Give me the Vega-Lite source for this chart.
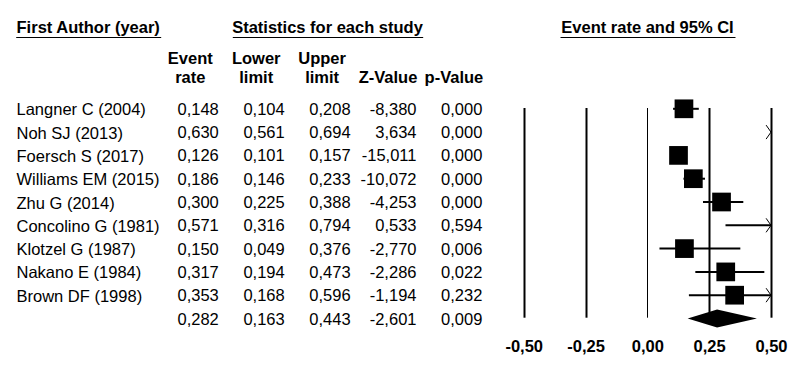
{
  "$schema": "https://vega.github.io/schema/vega-lite/v6.json",
  "width": 798,
  "height": 232,
  "autosize": {"type": "none"},
  "padding": {"top": 97, "bottom": 37, "left": 0, "right": 0},
  "background": "white",
  "config": {
    "view": {"stroke": null},
    "font": "Liberation Sans",
    "text": {"font": "Liberation Sans", "fontSize": 16.5, "color": "black"},
    "axis": {"labelFont": "Liberation Sans", "titleFont": "Liberation Sans", "labelColor": "black", "labelFontSize": 16.5},
    "locale": {"number": {"decimal": ",", "thousands": ".", "grouping": [3], "currency": ["", ""], "minus": "-"}}
  },
  "datasets": {
    "studies": [
      {"name": "Langner C (2004)", "type": "study", "rate": 0.148, "lower": 0.104, "upper": 0.208, "z": -8.380, "p": 0.000},
      {"name": "Noh SJ (2013)", "type": "study", "rate": 0.630, "lower": 0.561, "upper": 0.694, "z": 3.634, "p": 0.000},
      {"name": "Foersch S (2017)", "type": "study", "rate": 0.126, "lower": 0.101, "upper": 0.157, "z": -15.011, "p": 0.000},
      {"name": "Williams EM (2015)", "type": "study", "rate": 0.186, "lower": 0.146, "upper": 0.233, "z": -10.072, "p": 0.000},
      {"name": "Zhu G (2014)", "type": "study", "rate": 0.300, "lower": 0.225, "upper": 0.388, "z": -4.253, "p": 0.000},
      {"name": "Concolino G (1981)", "type": "study", "rate": 0.571, "lower": 0.316, "upper": 0.794, "z": 0.533, "p": 0.594},
      {"name": "Klotzel G (1987)", "type": "study", "rate": 0.150, "lower": 0.049, "upper": 0.376, "z": -2.770, "p": 0.006},
      {"name": "Nakano E (1984)", "type": "study", "rate": 0.317, "lower": 0.194, "upper": 0.473, "z": -2.286, "p": 0.022},
      {"name": "Brown DF (1998)", "type": "study", "rate": 0.353, "lower": 0.168, "upper": 0.596, "z": -1.194, "p": 0.232},
      {"name": "Summary", "type": "summary", "rate": 0.282, "lower": 0.163, "upper": 0.443, "z": -2.601, "p": 0.009}
    ],
    "diamond": [
      {"point": "lower", "x": 0.163, "top": 0, "bottom": 0},
      {"point": "estimate", "x": 0.282, "top": 1, "bottom": -1},
      {"point": "upper", "x": 0.443, "top": 0, "bottom": 0}
    ]
  },
  "layer": [
    {
      "data": {"name": "studies"},
      "encoding": {
        "y": {
          "field": "name", "type": "nominal",
          "scale": {"type": "point", "domain": ["Langner C (2004)", "Noh SJ (2013)", "Foersch S (2017)", "Williams EM (2015)", "Zhu G (2014)", "Concolino G (1981)", "Klotzel G (1987)", "Nakano E (1984)", "Brown DF (1998)", "Summary"], "range": [11.8, 221.5], "padding": 0},
          "axis": {"orient": "left", "offset": -16, "labelAlign": "left", "labelBaseline": "middle", "labelPadding": 0, "labelOffset": 1, "ticks": false, "tickSize": 0, "domain": false, "grid": false, "title": null, "labelFontSize": 16.5, "labelColor": "black", "labelLimit": 300, "labelExpr": "datum.value == 'Summary' ? '' : datum.label"}
        }
      },
      "layer": [
        {
          "encoding": {
            "x": {
              "field": "lower", "type": "quantitative",
              "scale": {"domain": [-0.5, 0.5], "range": [523.7, 771], "clamp": true, "nice": false, "zero": false},
              "axis": {"orient": "bottom", "values": [-0.5, -0.25, 0, 0.25, 0.5], "format": ".2f", "labelFontWeight": "bold", "labelFontSize": 16.5, "labelColor": "black", "labelFlush": false, "labelOverlap": false, "domain": false, "ticks": false, "tickSize": 0, "labelPadding": 9, "grid": true, "gridColor": "black", "gridOpacity": 1, "gridWidth": {"condition": {"test": "datum.value === 0", "value": 1}, "value": 2}, "title": null}
            }
          },
          "layer": [
            {
              "transform": [{"filter": "datum.type === 'study'"}],
              "mark": {"type": "rule", "color": "black", "strokeWidth": 2},
              "encoding": {"x2": {"field": "upper"}}
            },
            {
              "transform": [{"filter": "datum.type === 'study' && datum.rate <= 0.5"}],
              "mark": {"type": "point", "shape": "square", "filled": true, "color": "black", "opacity": 1, "size": 350},
              "encoding": {"x": {"field": "rate", "type": "quantitative"}}
            },
            {
              "transform": [{"filter": "datum.type === 'study' && datum.upper > 0.5"}],
              "mark": {"type": "point", "shape": "M-0.7,-1L0,0L-0.7,1", "filled": false, "color": "black", "opacity": 1, "strokeWidth": 1, "size": 196},
              "encoding": {"x": {"field": "upper", "type": "quantitative"}}
            }
          ]
        },
        {
          "transform": [{"fold": ["rate", "lower", "upper", "z", "p"], "as": ["col", "val"]}],
          "mark": {"type": "text", "align": "right", "baseline": "middle", "dy": 1, "fontSize": 16.5, "color": "black"},
          "encoding": {
            "x": {
              "field": "col", "type": "nominal",
              "scale": {"type": "point", "domain": ["rate", "lower", "upper", "z", "p"], "range": [218.8, 482.4], "padding": 0},
              "axis": {"orient": "top", "labelExpr": "datum.value == 'rate' ? ['Event', 'rate'] : datum.value == 'lower' ? ['Lower', 'limit'] : datum.value == 'upper' ? ['Upper', 'limit'] : datum.value == 'z' ? ['', 'Z-Value'] : ['', 'p-Value']", "labelAlign": "center", "labelAngle": 0, "labelOffset": -29, "labelFontWeight": "bold", "labelFontSize": 16.5, "labelColor": "black", "labelLineHeight": 19, "labelPadding": 31, "labelBaseline": "bottom", "domain": false, "ticks": false, "tickSize": 0, "grid": false, "title": null}
            },
            "text": {"field": "val", "type": "quantitative", "format": ".3f"}
          }
        }
      ],
      "resolve": {"scale": {"x": "independent"}, "axis": {"x": "independent"}}
    },
    {
      "data": {"name": "diamond"},
      "mark": {"type": "area", "color": "black", "opacity": 1},
      "encoding": {
        "x": {"field": "x", "type": "quantitative", "scale": {"domain": [-0.5, 0.5], "range": [523.7, 771], "clamp": true, "nice": false, "zero": false}, "axis": null},
        "y": {"field": "top", "type": "quantitative", "scale": {"domain": [-1, 1], "range": [230.5, 212.5], "nice": false, "zero": false}, "axis": null},
        "y2": {"field": "bottom"}
      }
    },
    {
      "data": {"values": [{"h": "First Author (year)"}]},
      "mark": {"type": "text", "fontWeight": "bold", "fontSize": 16.5, "baseline": "middle", "align": "center", "color": "black"},
      "encoding": {
        "x": {"field": "h", "type": "nominal", "scale": {"type": "point", "range": [15.7, 160.7], "padding": 0.5}, "axis": {"orient": "top", "offset": 60, "domain": true, "domainColor": "black", "domainWidth": 1, "ticks": false, "labels": false, "grid": false, "title": null}},
        "y": {"field": "h", "type": "nominal", "scale": {"type": "point", "range": [-69.5, -69.5]}, "axis": null},
        "text": {"field": "h"}
      }
    },
    {
      "data": {"values": [{"h": "Statistics for each study"}]},
      "mark": {"type": "text", "fontWeight": "bold", "fontSize": 16.5, "baseline": "middle", "align": "center", "color": "black"},
      "encoding": {
        "x": {"field": "h", "type": "nominal", "scale": {"type": "point", "range": [232.3, 422.7], "padding": 0.5}, "axis": {"orient": "top", "offset": 60, "domain": true, "domainColor": "black", "domainWidth": 1, "ticks": false, "labels": false, "grid": false, "title": null}},
        "y": {"field": "h", "type": "nominal", "scale": {"type": "point", "range": [-69.5, -69.5]}, "axis": null},
        "text": {"field": "h"}
      }
    },
    {
      "data": {"values": [{"h": "Event rate and 95% CI"}]},
      "mark": {"type": "text", "fontWeight": "bold", "fontSize": 16.5, "baseline": "middle", "align": "center", "color": "black"},
      "encoding": {
        "x": {"field": "h", "type": "nominal", "scale": {"type": "point", "range": [560, 735], "padding": 0.5}, "axis": {"orient": "top", "offset": 60, "domain": true, "domainColor": "black", "domainWidth": 1, "ticks": false, "labels": false, "grid": false, "title": null}},
        "y": {"field": "h", "type": "nominal", "scale": {"type": "point", "range": [-69.5, -69.5]}, "axis": null},
        "text": {"field": "h"}
      }
    }
  ],
  "resolve": {"scale": {"x": "independent", "y": "independent"}, "axis": {"x": "independent", "y": "independent"}}
}
